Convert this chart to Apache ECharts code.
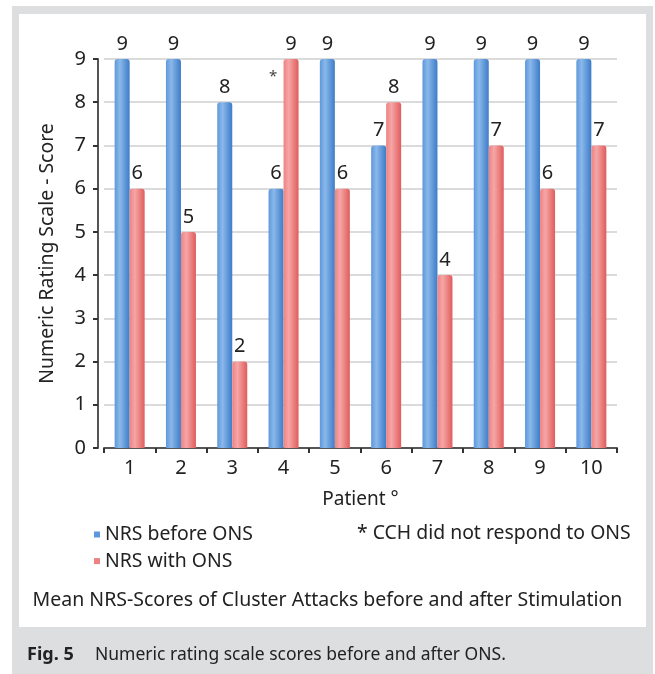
<!DOCTYPE html>
<html lang="en">
  <head>
    <meta charset="UTF-8" />
    <title>NRS scores</title>
    <style>
      * {
        padding: 0;
        margin: 0;
      }
      #chart {
        width: 655px;
        height: 674px;
      }
    </style>
    <script src="https://cdn.jsdelivr.net/npm/echarts@6/dist/echarts.min.js"></script>
  </head>
  <body>
    <div id="chart"></div>
    <script type="text/javascript">
      // data
      const patients = ['1', '2', '3', '4', '5', '6', '7', '8', '9', '10']
      const nrsBefore = [9, 9, 8, 6, 9, 7, 9, 9, 9, 9]
      const nrsWith = [6, 5, 2, 9, 6, 8, 4, 7, 6, 7]
      const yTicks = [0, 1, 2, 3, 4, 5, 6, 7, 8, 9]

      const font = 'Noto Sans'
      const ink = '#222'

      const blueFill = new echarts.graphic.LinearGradient(0, 0, 1, 0, [
        { offset: 0, color: '#5d98dc' },
        { offset: 0.35, color: '#8ab8ea' },
        { offset: 1, color: '#3d7cc8' },
      ])
      const redFill = new echarts.graphic.LinearGradient(0, 0, 1, 0, [
        { offset: 0, color: '#ee8282' },
        { offset: 0.35, color: '#f6a6a6' },
        { offset: 1, color: '#e05c5c' },
      ])

      const chart = echarts.init(document.getElementById('chart'))

      const barLabel = {
        show: true,
        position: 'top',
        distance: 5,
        fontFamily: font,
        fontSize: 20,
        color: ink,
      }

      const option = {
        animation: false,
        backgroundColor: '#fff',
        textStyle: { fontFamily: font },
        grid: { left: 104, right: 38, top: 59, bottom: 226 },
        title: {
          text: 'Mean NRS-Scores of Cluster Attacks before and after Stimulation',
          left: 'center',
          top: 585,
          textStyle: { fontFamily: font, fontSize: 19.5, fontWeight: 'normal', color: ink },
        },
        legend: {
          orient: 'vertical',
          left: 89,
          top: 520,
          icon: 'rect',
          itemWidth: 6,
          itemHeight: 6,
          itemGap: 7.6,
          textStyle: { fontFamily: font, fontSize: 19.4, color: ink },
          data: [
            { name: 'NRS before ONS', itemStyle: { color: '#5d98dc' } },
            { name: 'NRS with ONS', itemStyle: { color: '#ee8282' } },
          ],
        },
        xAxis: {
          type: 'category',
          data: patients,
          name: 'Patient °',
          nameLocation: 'middle',
          nameGap: 42,
          nameTextStyle: { fontFamily: font, fontSize: 19, color: ink },
          axisLine: { lineStyle: { color: '#555', width: 2 } },
          axisTick: { show: true, length: 5, lineStyle: { color: '#333', width: 2 } },
          axisLabel: { fontFamily: font, fontSize: 20, color: ink, margin: 10 },
        },
        yAxis: {
          type: 'value',
          min: yTicks[0],
          max: yTicks[yTicks.length - 1],
          interval: 1,
          offset: 6,
          name: 'Numeric Rating Scale - Score',
          nameLocation: 'middle',
          nameGap: 41,
          nameTextStyle: { fontFamily: font, fontSize: 19.4, color: ink },
          axisLine: { show: true, lineStyle: { color: '#555', width: 2 } },
          axisTick: { show: true, length: 5, lineStyle: { color: '#333', width: 2 } },
          axisLabel: { fontFamily: font, fontSize: 20, color: ink, margin: 12 },
          splitLine: { lineStyle: { color: '#cfcfcf', width: 1.5 } },
        },
        series: [
          {
            name: 'NRS before ONS',
            type: 'bar',
            data: nrsBefore,
            barWidth: 15,
            barGap: '0%',
            itemStyle: { color: blueFill, borderRadius: [3, 3, 0, 0] },
            label: barLabel,
          },
          {
            name: 'NRS with ONS',
            type: 'bar',
            data: nrsWith,
            barWidth: 15,
            itemStyle: { color: redFill, borderRadius: [3, 3, 0, 0] },
            label: barLabel,
            // asterisk: patient 4 did not respond
            markPoint: {
              symbol: 'circle',
              symbolSize: 1,
              itemStyle: { color: 'rgba(0,0,0,0)' },
              label: {
                show: true,
                position: 'inside',
                formatter: '*',
                fontFamily: font,
                fontSize: 15,
                color: '#444',
              },
              data: [{ coord: ['4', 8.6], symbolOffset: [-18, 0] }],
            },
          },
        ],
        graphic: [
          // gray frame and caption band
          {
            type: 'rect',
            z: -10,
            shape: { x: 12, y: 6, width: 641, height: 668 },
            style: { fill: '#dcdee0' },
          },
          {
            type: 'rect',
            z: -9,
            shape: { x: 19, y: 14, width: 627, height: 613 },
            style: { fill: '#ffffff' },
          },
          {
            type: 'text',
            left: 357,
            top: 524,
            style: { text: '* CCH did not respond to ONS', font: '19.4px "Noto Sans"', fill: ink },
          },
          {
            type: 'text',
            left: 27,
            top: 646,
            style: { text: 'Fig. 5', font: 'bold 18px "Noto Sans"', fill: ink },
          },
          {
            type: 'text',
            left: 95,
            top: 646,
            style: {
              text: 'Numeric rating scale scores before and after ONS.',
              font: '17.5px "Noto Sans"',
              fill: ink,
            },
          },
        ],
      }

      chart.setOption(option)
    </script>
  </body>
</html>
